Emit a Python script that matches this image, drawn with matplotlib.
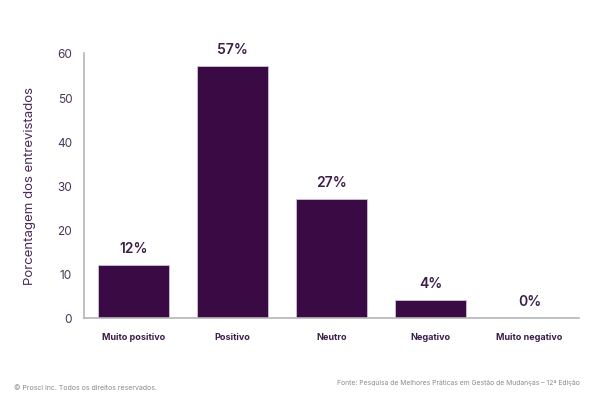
import matplotlib.pyplot as plt

categories = ["Muito positivo", "Positivo", "Neutro", "Negativo", "Muito negativo"]
values = [12, 57, 27, 4, 0]
yticks = [0, 10, 20, 30, 40, 50, 60]

bar_color = "#3a0a45"
text_color = "#3b1f4a"

plt.rcParams['font.family'] = ['Inter', 'DejaVu Sans']

fig = plt.figure(figsize=(6, 4.02), dpi=100)
ax = fig.add_axes([0.14, 0.2065, 0.825, 0.6595])

x = range(len(categories))
ax.bar(x, values, width=0.727, color=bar_color, edgecolor="#d9cfe0", linewidth=0.5)
for xi, v in zip(x, values):
    ax.text(xi, v + 2.3, f"{v}%", ha="center", va="bottom", fontsize=10,
            fontweight="semibold", color=text_color)

ax.set_xlim(-0.5, 4.5)
ax.set_ylim(0, 60)
ax.set_yticks(yticks)
ax.set_xticks(list(x))
ax.set_xticklabels(categories, fontsize=6.5, fontweight="bold", color=text_color)
ax.tick_params(axis="x", length=0, pad=10)
ax.tick_params(axis="y", length=0, pad=8.5, labelsize=8.5, labelcolor="#4a3557")
ax.set_ylabel("Porcentagem dos entrevistados", fontsize=9.5, color="#4a2a5a", labelpad=15)

for s in ["top", "right"]:
    ax.spines[s].set_visible(False)
for s in ["left", "bottom"]:
    ax.spines[s].set_color("#b5b5b5")
    ax.spines[s].set_linewidth(1.2)

fig.text(0.023, 0.035, "© Prosci Inc. Todos os direitos reservados.", fontsize=5,
         color="#8a8a8a", ha="left", va="center")
fig.text(0.967, 0.047, "Fonte: Pesquisa de Melhores Práticas em Gestão de Mudanças – 12ª Edição",
         fontsize=4.85, color="#8a8a8a", ha="right", va="center")

fig.savefig("out.png", dpi=100)
